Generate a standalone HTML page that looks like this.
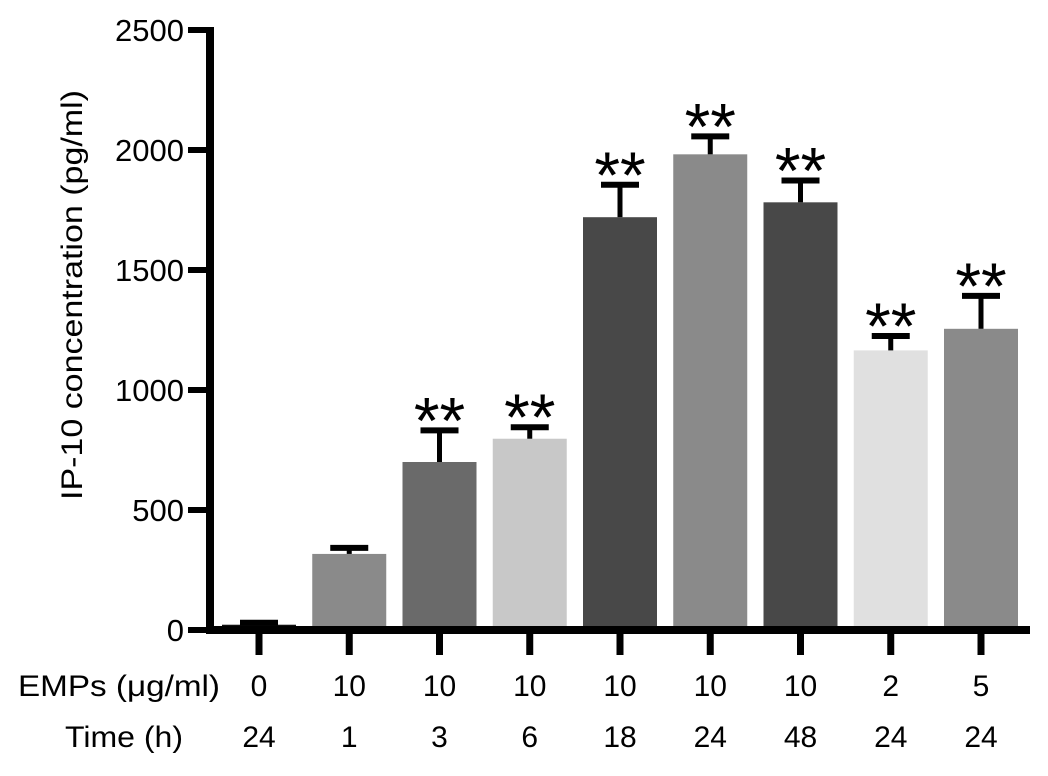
<!DOCTYPE html>
<html><head><meta charset="utf-8"><style>
body{margin:0;background:#fff;}
svg text{font-family:"Liberation Sans",Arial,sans-serif;fill:#000;}
</style></head><body>
<svg width="1048" height="771" id="chart">
</svg>
<script>
const emps=["0","10","10","10","10","10","10","2","5"];
const times=["24","1","3","6","18","24","48","24","24"];
const values=[22,317,700,797,1720,1982,1782,1165,1255];
const errTop=[30,342,832,845,1855,2057,1873,1225,1392];
const colors=["#111","#8a8a8a","#6a6a6a","#c8c8c8","#484848","#8a8a8a","#484848","#e0e0e0","#8a8a8a"];
const sig=[false,false,true,true,true,true,true,true,true];
const yTicks=[0,500,1000,1500,2000,2500];

const svg=document.getElementById('chart');
const NS='http://www.w3.org/2000/svg';
const y=v=>630-v*0.24;
const xc=i=>259+90.25*i;
function mk(tag,attrs,parent){const e=document.createElementNS(NS,tag);for(const k in attrs)e.setAttribute(k,attrs[k]);(parent||svg).appendChild(e);return e;}

values.forEach((v,i)=>{
  const g=mk('g',{});
  
  
  const r=mk('rect',{x:xc(i)-37,y:y(v),width:74,height:630-y(v),fill:colors[i]},g);
  
  
  const e1=mk('line',{x1:xc(i),x2:xc(i),y1:y(v),y2:y(errTop[i]),stroke:'#000','stroke-width':5},g);
  
  
  const e2=mk('line',{x1:xc(i)-19,x2:xc(i)+19,y1:y(errTop[i]),y2:y(errTop[i]),stroke:'#000','stroke-width':6},g);
  
  
  if(sig[i]){
    const t=mk('text',{x:xc(i),y:y(errTop[i])+13,'text-anchor':'middle','font-size':66},g);
    t.textContent='**';
    
    
  }
  const tk=mk('line',{x1:xc(i),x2:xc(i),y1:630,y2:655,stroke:'#000','stroke-width':7});
  
  
  const a=mk('text',{x:xc(i),y:696,'text-anchor':'middle','font-size':30});
  a.textContent=emps[i];
  
  
  const b=mk('text',{x:xc(i),y:747,'text-anchor':'middle','font-size':30});
  b.textContent=times[i];
  
  
});
yTicks.forEach(v=>{
  const l=mk('line',{x1:188,x2:210,y1:y(v),y2:y(v),stroke:'#000','stroke-width':6});
  
  
  const t=mk('text',{x:184,y:y(v)+11,'text-anchor':'end','font-size':31});
  t.textContent=v;
  
  
});
const ya=mk('line',{x1:210,x2:210,y1:27,y2:634,stroke:'#000','stroke-width':8});


const xa=mk('line',{x1:206,x2:1030,y1:630,y2:630,stroke:'#000','stroke-width':8});


const yt=mk('text',{x:-205,y:0,'font-size':30,textLength:410,lengthAdjust:'spacingAndGlyphs',transform:'translate(82,295) rotate(-90)'});
yt.textContent='IP-10 concentration (pg/ml)';


const r1=mk('text',{x:18,y:696,'font-size':30,textLength:202,lengthAdjust:'spacingAndGlyphs'});
r1.textContent='EMPs (\u03BCg/ml)';


const r2=mk('text',{x:65,y:747,'font-size':30,textLength:118,lengthAdjust:'spacingAndGlyphs'});
r2.textContent='Time (h)';


</script>
</body></html>
